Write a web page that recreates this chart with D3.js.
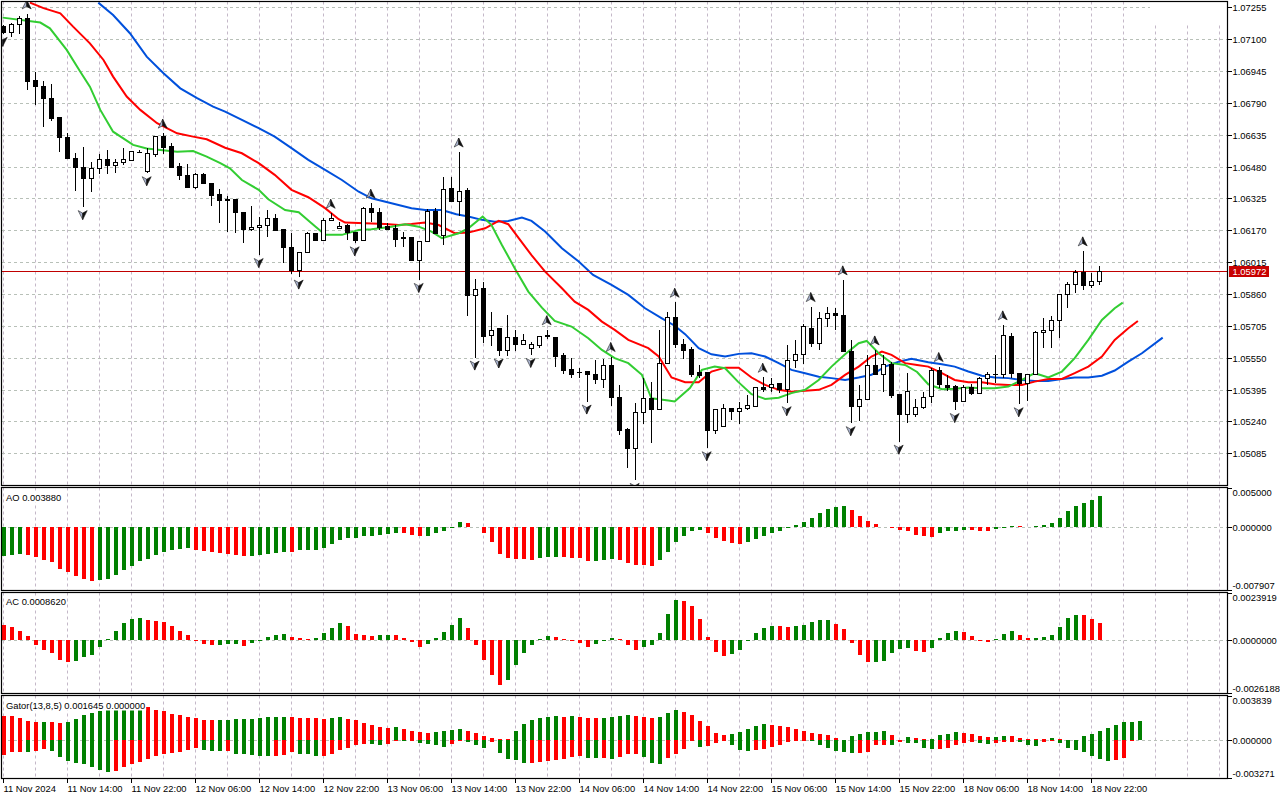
<!DOCTYPE html>
<html>
<head>
<meta charset="utf-8">
<script src="https://cdn.jsdelivr.net/npm/d3@7"></script>
<style>
body { margin: 0; background: #fff; }
svg { display: block; }
text { font-family: "Liberation Sans", Arial, sans-serif; font-size: 9.4px; fill: #000; }
</style>
</head>
<body>
<div id="chart"></div>
<script>
var width = 1280, height = 800;

// EURUSD H1, first bar 11 Nov 06:00
var open = [1.07161,1.07134,1.07173,1.07202,1.06897,1.06872,1.06813,1.06717,1.06624,1.06521,
 1.06478,1.06424,1.06472,1.06516,1.06487,1.06499,1.06511,1.06551,1.06456,1.06538,
 1.06629,1.06576,1.06483,1.06435,1.06378,1.06440,1.06396,1.06342,1.06318,1.06318,
 1.06258,1.06175,1.06185,1.06195,1.06226,1.06172,1.06088,1.05974,1.06062,1.06156,
 1.06123,1.06219,1.06180,1.06196,1.06159,1.06123,1.06278,1.06258,1.06188,1.06178,
 1.06133,1.06133,1.06023,1.06115,1.06261,1.06143,1.06375,1.06309,1.06362,1.05852,
 1.05885,1.05658,1.05692,1.05583,1.05651,1.05616,1.05597,1.05609,1.05654,1.05651,
 1.05559,1.05491,1.05479,1.05481,1.05467,1.05446,1.05510,1.05358,1.05199,1.05110,
 1.05285,1.05353,1.05296,1.05524,1.05746,1.05616,1.05591,1.05476,1.05478,1.05196,
 1.05215,1.05301,1.05288,1.05305,1.05312,1.05407,1.05405,1.05423,1.05397,1.05538,
 1.05564,1.05694,1.05621,1.05743,1.05767,1.05757,1.05580,1.05312,1.05348,1.05510,
 1.05470,1.05519,1.05369,1.05275,1.05275,1.05307,1.05361,1.05486,1.05417,1.05410,
 1.05337,1.05405,1.05378,1.05447,1.05467,1.05467,1.05653,1.05475,1.05426,1.05467,
 1.05674,1.05682,1.05731,1.05856,1.05908,1.05964,1.05901,1.05920];
var high = [1.07169,1.07181,1.07213,1.07223,1.06942,1.06898,1.06882,1.06722,1.06643,1.06548,
 1.06577,1.06501,1.06542,1.06561,1.06517,1.06569,1.06556,1.06561,1.06569,1.06629,
 1.06643,1.06594,1.06499,1.06493,1.06448,1.06448,1.06396,1.06370,1.06336,1.06318,
 1.06258,1.06290,1.06237,1.06269,1.06250,1.06177,1.06159,1.06062,1.06164,1.06156,
 1.06229,1.06253,1.06213,1.06201,1.06159,1.06285,1.06302,1.06278,1.06206,1.06196,
 1.06164,1.06133,1.06115,1.06273,1.06278,1.06431,1.06431,1.06551,1.06378,1.05934,
 1.05920,1.05775,1.05692,1.05759,1.05686,1.05665,1.05626,1.05655,1.05686,1.05651,
 1.05572,1.05551,1.05499,1.05481,1.05538,1.05543,1.05556,1.05418,1.05207,1.05329,
 1.05451,1.05434,1.05686,1.05772,1.05820,1.05642,1.05603,1.05515,1.05478,1.05296,
 1.05324,1.05301,1.05337,1.05369,1.05407,1.05455,1.05454,1.05426,1.05613,1.05637,
 1.05713,1.05799,1.05772,1.05799,1.05791,1.05929,1.05637,1.05418,1.05564,1.05588,
 1.05564,1.05531,1.05369,1.05475,1.05350,1.05385,1.05499,1.05507,1.05467,1.05418,
 1.05418,1.05421,1.05458,1.05483,1.05564,1.05710,1.05669,1.05475,1.05467,1.05680,
 1.05743,1.05755,1.05856,1.05920,1.05977,1.06070,1.05961,1.05998];
var low = [1.07126,1.07110,1.07124,1.06853,1.06780,1.06675,1.06704,1.06553,1.06519,1.06363,
 1.06283,1.06358,1.06444,1.06444,1.06451,1.06490,1.06511,1.06544,1.06448,1.06529,
 1.06542,1.06475,1.06415,1.06378,1.06370,1.06394,1.06290,1.06208,1.06164,1.06159,
 1.06107,1.06169,1.06050,1.06140,1.06169,1.06013,1.05957,1.05945,1.06062,1.06120,
 1.06123,1.06219,1.06175,1.06123,1.06107,1.06123,1.06213,1.06172,1.06172,1.06091,
 1.06091,1.06023,1.05929,1.06115,1.06153,1.06099,1.06309,1.06240,1.05755,1.05551,
 1.05621,1.05609,1.05561,1.05561,1.05583,1.05616,1.05564,1.05597,1.05642,1.05507,
 1.05470,1.05451,1.05451,1.05337,1.05421,1.05405,1.05317,1.05175,1.05013,1.04956,
 1.05227,1.05134,1.05296,1.05524,1.05599,1.05544,1.05457,1.05452,1.05110,1.05180,
 1.05215,1.05248,1.05228,1.05296,1.05312,1.05385,1.05385,1.05378,1.05329,1.05499,
 1.05519,1.05604,1.05588,1.05702,1.05686,1.05580,1.05232,1.05244,1.05348,1.05470,
 1.05382,1.05356,1.05142,1.05232,1.05264,1.05301,1.05329,1.05402,1.05390,1.05296,
 1.05337,1.05369,1.05378,1.05418,1.05426,1.05451,1.05451,1.05324,1.05340,1.05467,
 1.05599,1.05599,1.05648,1.05794,1.05867,1.05880,1.05888,1.05904];
var close = [1.07132,1.07173,1.07202,1.06894,1.06869,1.06811,1.06712,1.06623,1.06519,1.06475,
 1.06422,1.06472,1.06516,1.06485,1.06501,1.06513,1.06556,1.06550,1.06542,1.06629,
 1.06572,1.06475,1.06436,1.06378,1.06440,1.06399,1.06339,1.06315,1.06313,1.06256,
 1.06175,1.06185,1.06195,1.06226,1.06169,1.06088,1.05974,1.06062,1.06156,1.06120,
 1.06217,1.06229,1.06190,1.06159,1.06123,1.06278,1.06258,1.06185,1.06175,1.06127,
 1.06131,1.06023,1.06115,1.06261,1.06156,1.06370,1.06309,1.06359,1.05852,1.05884,
 1.05653,1.05684,1.05583,1.05651,1.05613,1.05635,1.05616,1.05655,1.05656,1.05556,
 1.05487,1.05471,1.05476,1.05470,1.05444,1.05510,1.05358,1.05196,1.05110,1.05285,
 1.05353,1.05296,1.05524,1.05746,1.05613,1.05583,1.05467,1.05464,1.05196,1.05296,
 1.05301,1.05288,1.05305,1.05319,1.05407,1.05398,1.05421,1.05397,1.05538,1.05564,
 1.05700,1.05621,1.05743,1.05767,1.05757,1.05580,1.05312,1.05348,1.05510,1.05470,
 1.05519,1.05366,1.05275,1.05385,1.05308,1.05358,1.05486,1.05418,1.05403,1.05337,
 1.05405,1.05378,1.05447,1.05467,1.05469,1.05658,1.05475,1.05426,1.05467,1.05674,
 1.05682,1.05731,1.05856,1.05908,1.05964,1.05901,1.05920,1.05972];

// Alligator lines, [bar, price] (already shifted forward)
var jaw = [[11.95,1.07278],[13.8,1.07218],[15.9,1.07129],[18,1.07015],[20.1,1.06934],[22.2,1.06861],[24.3,1.06813],[26.3,1.06772],[27.8,1.06748],[29.9,1.06707],[32,1.06667],[34,1.06626],[36.1,1.06570],[38.2,1.06513],[40.3,1.06464],[42.4,1.06415],[44.5,1.06358],[46.1,1.06326],[48.6,1.06302],[51.1,1.06278],[52.8,1.06269],[54.9,1.06269],[56.7,1.06248],[58.2,1.06237],[59.9,1.06221],[61.5,1.06212],[63.2,1.06216],[64.9,1.06232],[66.1,1.06216],[67.8,1.06164],[69.9,1.06083],[72,1.06018],[73.8,1.05953],[76.1,1.05905],[78.2,1.05856],[80.3,1.05791],[82.4,1.05742],[84,1.05706],[85.3,1.05665],[87,1.05597],[88.6,1.05567],[90.3,1.05556],[92,1.05569],[93.6,1.05572],[95.3,1.05556],[97,1.05524],[98.6,1.05491],[100.3,1.05475],[102,1.05458],[103.6,1.05451],[105.3,1.05442],[107,1.05454],[108.6,1.05467],[110.3,1.05507],[112,1.05531],[113.6,1.05545],[115.7,1.05528],[117.4,1.05519],[119,1.05507],[120.7,1.05483],[122.4,1.05463],[124,1.05454],[125.7,1.05451],[127.4,1.05442],[129,1.05437],[130.7,1.05437],[132.4,1.05447],[134,1.05454],[135.7,1.05454],[137.4,1.05463],[139,1.05488],[140.7,1.05531],[142.4,1.05572],[145,1.05648]];
var teeth = [[3.4,1.07278],[5.1,1.07251],[7.2,1.07226],[8.8,1.07161],[10.9,1.07080],[12.6,1.06999],[13.8,1.06918],[15.5,1.06821],[17.2,1.06756],[19.3,1.06691],[21.8,1.06642],[23.8,1.06626],[25.5,1.06613],[27.8,1.06572],[29.9,1.06545],[32,1.06497],[34,1.06440],[36.1,1.06367],[38.2,1.06331],[40.3,1.06278],[42,1.06224],[42.8,1.06208],[45.3,1.06205],[47.8,1.06201],[49.5,1.06196],[51.1,1.06201],[52.8,1.06208],[54.5,1.06196],[56.5,1.06156],[58.2,1.06159],[60.3,1.06180],[62,1.06216],[63.2,1.06200],[64.5,1.06132],[66.1,1.06050],[67.8,1.05969],[69.9,1.05888],[71.5,1.05823],[73.2,1.05783],[74.9,1.05726],[76.5,1.05686],[78.2,1.05637],[80.7,1.05597],[82,1.05556],[83.6,1.05454],[85.3,1.05431],[87,1.05431],[88.6,1.05483],[90.3,1.05502],[92,1.05502],[93.6,1.05454],[95.3,1.05418],[97,1.05394],[98.6,1.05385],[100.3,1.05389],[102,1.05394],[103.6,1.05418],[105.3,1.05467],[107,1.05507],[108.6,1.05556],[109.9,1.05580],[111.1,1.05564],[112.8,1.05524],[114.3,1.05515],[115.7,1.05507],[117.4,1.05475],[119,1.05442],[120.7,1.05431],[122.4,1.05431],[124,1.05421],[125.7,1.05418],[127.4,1.05418],[129,1.05434],[130.7,1.05447],[132.4,1.05447],[134,1.05475],[135.7,1.05507],[137.4,1.05556],[139,1.05637],[140.7,1.05694],[141.9,1.05729]];
var lips = [[0,1.07205],[4.7,1.07181],[5.9,1.07153],[8,1.07048],[9.7,1.06942],[10.9,1.06869],[12.2,1.06756],[13.8,1.06650],[16.3,1.06586],[18,1.06568],[19.7,1.06561],[21.8,1.06553],[23.8,1.06556],[25.5,1.06529],[27.2,1.06497],[28.4,1.06472],[29.9,1.06415],[32,1.06367],[33.2,1.06321],[35.3,1.06269],[37,1.06258],[38.6,1.06205],[40.3,1.06148],[42.4,1.06148],[44.5,1.06172],[46.1,1.06175],[48.6,1.06188],[50.3,1.06200],[52,1.06188],[53.6,1.06164],[54.9,1.06132],[57,1.06156],[58.2,1.06180],[60,1.06237],[61.1,1.06196],[62.4,1.06099],[64,1.05986],[65.7,1.05872],[67.4,1.05794],[69,1.05729],[71.1,1.05702],[73.2,1.05645],[74.9,1.05588],[76.5,1.05548],[78.2,1.05524],[79.9,1.05467],[81.1,1.05353],[83.2,1.05342],[84,1.05337],[85.9,1.05403],[87.4,1.05491],[89,1.05507],[90.3,1.05499],[91.9,1.05434],[93.6,1.05373],[95.3,1.05350],[97,1.05356],[98.6,1.05378],[100.3,1.05394],[102,1.05442],[103.6,1.05507],[105.3,1.05567],[107,1.05621],[108,1.05632],[109.5,1.05572],[111.1,1.05524],[112.8,1.05515],[114.3,1.05481],[115.7,1.05421],[117.4,1.05397],[119,1.05399],[120.7,1.05405],[122.4,1.05402],[124,1.05402],[125.7,1.05410],[127.4,1.05442],[129,1.05475],[130.7,1.05454],[132.4,1.05483],[134,1.05548],[135.7,1.05637],[137.4,1.05734],[139,1.05791],[140,1.05818]];

var fractalUp = [3,20,41,46,57,68,76,84,95,101,105,109,117,125,135];
var fractalDown = [0,10,18,32,37,44,52,59,62,66,73,79,88,98,106,112,119,127];

var ao = [-0.00368,-0.00347,-0.00334,-0.00347,-0.00376,-0.00410,-0.00443,-0.00523,-0.00568,-0.00610,
 -0.00648,-0.00673,-0.00660,-0.00648,-0.00598,-0.00543,-0.00485,-0.00431,-0.00397,-0.00347,
 -0.00309,-0.00284,-0.00272,-0.00268,-0.00284,-0.00297,-0.00309,-0.00322,-0.00334,-0.00347,
 -0.00359,-0.00357,-0.00355,-0.00334,-0.00322,-0.00309,-0.00311,-0.00293,-0.00291,-0.00284,
 -0.00259,-0.00209,-0.00159,-0.00142,-0.00134,-0.00117,-0.00105,-0.00096,-0.00084,-0.00067,
 -0.00071,-0.00092,-0.00117,-0.00105,-0.00079,-0.00054,-0.00004,0.00067,0.00054,0.00004,
 -0.00079,-0.00192,-0.00334,-0.00393,-0.00397,-0.00405,-0.00408,-0.00393,-0.00380,-0.00378,
 -0.00380,-0.00382,-0.00393,-0.00431,-0.00428,-0.00418,-0.00405,-0.00410,-0.00447,-0.00477,
 -0.00481,-0.00485,-0.00418,-0.00309,-0.00180,-0.00105,-0.00042,-0.00029,-0.00071,-0.00142,
 -0.00171,-0.00196,-0.00209,-0.00184,-0.00146,-0.00109,-0.00071,-0.00046,-0.00004,0.00029,
 0.00067,0.00117,0.00180,0.00230,0.00255,0.00268,0.00217,0.00142,0.00079,0.00042,
 0.00004,-0.00004,-0.00029,-0.00042,-0.00092,-0.00117,-0.00121,-0.00079,-0.00054,-0.00042,
 -0.00029,-0.00031,-0.00042,-0.00044,-0.00017,-0.00004,0.00021,0.00019,0.00008,0.00021,
 0.00033,0.00050,0.00113,0.00201,0.00263,0.00309,0.00347,0.00388];
var ac = [0.000771,0.000668,0.000497,0.000206,-0.000223,-0.000480,-0.000634,-0.000994,-0.001096,-0.001045,
 -0.000839,-0.000737,-0.000325,0.000069,0.000497,0.000857,0.001062,0.001113,0.001011,0.001002,
 0.000908,0.000754,0.000497,0.000291,-0.000017,-0.000154,-0.000240,-0.000223,-0.000188,-0.000154,
 -0.000274,-0.000120,-0.000034,0.000188,0.000291,0.000343,0.000188,0.000120,0.000069,0.000137,
 0.000394,0.000651,0.000857,0.000754,0.000343,0.000274,0.000240,0.000291,0.000300,0.000283,
 0.000120,-0.000086,-0.000343,-0.000188,0.000120,0.000428,0.000788,0.001148,0.000634,-0.000240,
 -0.000959,-0.001730,-0.002244,-0.001987,-0.001216,-0.000651,-0.000240,0.000069,0.000223,0.000154,
 0.000051,-0.000017,-0.000137,-0.000343,-0.000188,-0.000017,0.000120,0.000069,-0.000240,-0.000497,
 -0.000343,-0.000240,0.000394,0.001353,0.002021,0.001970,0.001713,0.001096,0.000171,-0.000600,
 -0.000805,-0.000702,-0.000497,0.000017,0.000377,0.000634,0.000737,0.000728,0.000685,0.000737,
 0.000788,0.000942,0.001028,0.001045,0.000839,0.000582,-0.000120,-0.000737,-0.001096,-0.001079,
 -0.001045,-0.000634,-0.000445,-0.000394,-0.000548,-0.000582,-0.000394,0.000120,0.000377,0.000480,
 0.000428,0.000223,0.000017,-0.000069,0.000069,0.000308,0.000463,0.000257,0.000103,0.000111,
 0.000171,0.000257,0.000685,0.001148,0.001302,0.001285,0.001096,0.000862];
var gatorUp = [0.002139,0.002081,0.001907,0.001676,0.001590,0.001618,0.001590,0.001474,0.001590,0.001821,
 0.002168,0.002370,0.002543,0.002717,0.002832,0.002919,0.002977,0.003006,0.002890,0.002659,
 0.002543,0.002312,0.002225,0.002052,0.001936,0.001763,0.001734,0.001763,0.001792,0.001821,
 0.001835,0.001850,0.001907,0.001994,0.002009,0.002052,0.001994,0.001936,0.001907,0.001893,
 0.001879,0.001965,0.002052,0.001879,0.001734,0.001474,0.001301,0.001127,0.001069,0.001156,
 0.000983,0.000809,0.000723,0.000636,0.000723,0.000838,0.000896,0.000983,0.000809,0.000636,
 0.000376,0.000202,0.000116,0.000087,0.000809,0.001416,0.001763,0.001936,0.002023,0.002110,
 0.002023,0.002110,0.002023,0.001936,0.001922,0.001936,0.002023,0.002110,0.002196,0.002110,
 0.002023,0.001936,0.002023,0.002370,0.002630,0.002457,0.002196,0.001676,0.001243,0.000636,
 0.000462,0.000549,0.000723,0.000983,0.001243,0.001416,0.001329,0.001243,0.001156,0.000983,
 0.000809,0.000636,0.000549,0.000462,0.000202,0.000014,0.000376,0.000549,0.000723,0.000737,
 0.000809,0.000462,0.000014,0.000289,0.000202,0.000116,0.000130,0.000462,0.000549,0.000723,
 0.000636,0.000549,0.000376,0.000289,0.000303,0.000376,0.000347,0.000231,0.000145,0.000116,
 0.000087,0.000202,0.000087,0.000029,0.000014,0.000347,0.000578,0.000809,0.001040,0.001301,
 0.001561,0.001618,0.001645];
var gatorDown = [-0.001301,-0.001012,-0.000997,-0.001012,-0.000925,-0.000751,-0.000925,-0.001445,-0.001821,-0.001936,
 -0.002081,-0.002312,-0.002601,-0.002746,-0.002659,-0.002312,-0.002081,-0.001879,-0.001618,-0.001358,
 -0.001214,-0.001098,-0.001012,-0.000809,-0.000665,-0.000867,-0.000925,-0.000954,-0.000896,-0.001156,
 -0.001214,-0.001301,-0.001329,-0.001387,-0.001329,-0.001301,-0.001012,-0.001156,-0.001214,-0.001387,
 -0.001358,-0.001214,-0.000867,-0.000694,-0.000434,-0.000347,-0.000361,-0.000434,-0.000347,-0.000058,
 -0.000087,-0.000058,-0.000231,-0.000318,-0.000405,-0.000578,-0.000318,-0.000058,-0.000145,-0.000405,
 -0.000665,-0.000145,-0.001098,-0.001590,-0.001705,-0.001965,-0.001951,-0.001879,-0.001763,-0.001705,
 -0.001590,-0.001416,-0.001329,-0.001532,-0.001546,-0.001532,-0.001618,-0.001416,-0.001185,-0.001156,
 -0.001445,-0.001965,-0.002052,-0.001532,-0.001185,-0.000751,-0.000029,-0.000578,-0.000491,-0.000231,
 -0.000014,-0.000405,-0.000838,-0.000925,-0.000838,-0.000723,-0.000578,-0.000405,-0.000145,-0.000058,
 -0.000014,-0.000087,-0.000405,-0.000665,-0.000925,-0.001012,-0.001098,-0.001084,-0.001012,-0.000405,
 -0.000390,-0.000419,-0.000145,-0.000231,-0.000246,-0.000665,-0.000751,-0.000723,-0.000665,-0.000405,
 -0.000231,-0.000145,-0.000231,-0.000318,-0.000231,-0.000145,-0.000130,-0.000145,-0.000434,-0.000520,
 -0.000145,-0.000087,-0.000202,-0.000694,-0.000867,-0.001040,-0.001387,-0.001618,-0.001792,-0.001705,
 -0.001532,-0.000058];

var priceTicks = [1.07255,1.07100,1.06945,1.06790,1.06635,1.06480,1.06325,1.06170,1.06015,1.05860,1.05705,1.05550,1.05395,1.05240,1.05085];
var timeLabels = ["11 Nov 2024","11 Nov 14:00","11 Nov 22:00","12 Nov 06:00","12 Nov 14:00","12 Nov 22:00",
 "13 Nov 06:00","13 Nov 14:00","13 Nov 22:00","14 Nov 06:00","14 Nov 14:00","14 Nov 22:00",
 "15 Nov 06:00","15 Nov 14:00","15 Nov 22:00","18 Nov 06:00","18 Nov 14:00","18 Nov 22:00"];

var GREEN = "#008000", RED = "#ff0000";

var svg = d3.select("#chart").append("svg")
  .attr("width", width).attr("height", height);

var x = d3.scaleLinear().domain([0, 153]).range([2.7, 1226.7]);
var yMain = d3.scaleLinear().domain([1.04931, 1.07281]).range([485, 2]);
var yAO = d3.scaleLinear().domain([-0.007907, 0.005]).range([590, 487.5]);
var yAC = d3.scaleLinear().domain([-0.0026188, 0.0023919]).range([692.5, 593]);
var yGt = d3.scaleLinear().domain([-0.003271, 0.003839]).range([778, 696]);

var panels = [
  {id: "main", y0: 1.5, y1: 485.5},
  {id: "ao", y0: 487.5, y1: 590.5},
  {id: "ac", y0: 592.5, y1: 693.5},
  {id: "gt", y0: 695.5, y1: 778.5}
];

var defs = svg.append("defs");
panels.forEach(function(p) {
  defs.append("clipPath").attr("id", "clip-" + p.id)
    .append("rect").attr("x", 2).attr("y", p.y0 + 0.5)
    .attr("width", 1225).attr("height", p.y1 - p.y0 - 1);
});

// grid
var gridBars = d3.range(0, 153, 4);
panels.forEach(function(p) {
  svg.append("g").attr("clip-path", "url(#clip-" + p.id + ")")
    .selectAll("line").data(gridBars).enter().append("line")
    .attr("x1", function(d) { return Math.round(x(d)) + 0.5; })
    .attr("x2", function(d) { return Math.round(x(d)) + 0.5; })
    .attr("y1", p.y0).attr("y2", p.y1)
    .attr("stroke", "#c4b8c8").attr("stroke-dasharray", "3,3");
});
svg.append("g").attr("clip-path", "url(#clip-main)")
  .selectAll("line").data(priceTicks).enter().append("line")
  .attr("x1", 2).attr("x2", 1227)
  .attr("y1", function(d) { return Math.round(yMain(d)) + 0.5; })
  .attr("y2", function(d) { return Math.round(yMain(d)) + 0.5; })
  .attr("stroke", "#b8c0b8").attr("stroke-dasharray", "3,3");
[yAO, yAC, yGt].forEach(function(s) {
  svg.append("line").attr("x1", 2).attr("x2", 1227)
    .attr("y1", Math.round(s(0)) + 0.5).attr("y2", Math.round(s(0)) + 0.5)
    .attr("stroke", "#b8c0b8").attr("stroke-dasharray", "3,3");
});
// blank patch in the top right corner of the main window
svg.append("rect").attr("x", 1150).attr("y", 2).attr("width", 77).attr("height", 23).attr("fill", "#fff");

// alligator lines
var main = svg.append("g").attr("clip-path", "url(#clip-main)");
var line = d3.line().x(function(d) { return x(d[0]); }).y(function(d) { return yMain(d[1]); });
[[jaw, "#0050dc"], [teeth, "#ff0000"], [lips, "#32cd32"]].forEach(function(l) {
  main.append("path").datum(l[0]).attr("d", line)
    .attr("fill", "none").attr("stroke", l[1]).attr("stroke-width", 2);
});

// current price line
main.append("line").attr("x1", 2).attr("x2", 1227)
  .attr("y1", Math.round(yMain(close[137])) + 0.5).attr("y2", Math.round(yMain(close[137])) + 0.5)
  .attr("stroke", "#c00000").attr("stroke-width", 1);

// candles
var bars = d3.range(open.length);
var cg = main.append("g").attr("shape-rendering", "crispEdges");
cg.selectAll("line.wick").data(bars).enter().append("line")
  .attr("x1", function(i) { return Math.round(x(i)) + 0.5; })
  .attr("x2", function(i) { return Math.round(x(i)) + 0.5; })
  .attr("y1", function(i) { return yMain(high[i]); })
  .attr("y2", function(i) { return yMain(low[i]); })
  .attr("stroke", "#000");
cg.selectAll("rect").data(bars).enter().append("rect")
  .attr("x", function(i) { return Math.round(x(i)) - 1.5; })
  .attr("width", 4)
  .attr("y", function(i) { return yMain(Math.max(open[i], close[i])); })
  .attr("height", function(i) { return Math.max(0.1, Math.abs(yMain(open[i]) - yMain(close[i]))); })
  .attr("fill", function(i) { return close[i] > open[i] ? "#fff" : "#000"; })
  .attr("stroke", "#000");

// fractal arrows
function drawArrow(g, cx, cy, up) {
  var s = up ? 1 : -1;
  g.append("path").attr("d", "M" + cx + "," + (cy - 5 * s) + "L" + cx + "," + (cy + 1.5 * s) + "L" + (cx - 4.5) + "," + (cy + 4 * s) + "Z")
    .attr("fill", "#aab4d0").attr("stroke", "#222").attr("stroke-width", 0.6);
  g.append("path").attr("d", "M" + cx + "," + (cy - 5 * s) + "L" + (cx + 4.5) + "," + (cy + 4 * s) + "L" + cx + "," + (cy + 1.5 * s) + "Z")
    .attr("fill", "#111").attr("stroke", "#111").attr("stroke-width", 0.6);
}
var fg = main.append("g");
fractalUp.forEach(function(i) { drawArrow(fg, x(i), yMain(high[i]) - 9, true); });
fractalDown.forEach(function(i) { drawArrow(fg, x(i), yMain(low[i]) + 7.5, false); });

// histograms
function colorsByChange(vals, firstUp, useAbs) {
  return vals.map(function(v, i) {
    if (i === 0) return firstUp ? GREEN : RED;
    var a = useAbs ? Math.abs(v) : v, b = useAbs ? Math.abs(vals[i - 1]) : vals[i - 1];
    return a > b ? GREEN : RED;
  });
}
function histogram(id, vals, scale, cols) {
  svg.append("g").attr("clip-path", "url(#clip-" + id + ")").attr("shape-rendering", "crispEdges")
    .selectAll("rect").data(vals).enter().append("rect")
    .attr("x", function(d, i) { return Math.round(x(i)) - 1.5; })
    .attr("width", 4)
    .attr("y", function(d) { return Math.min(scale(d), scale(0)); })
    .attr("height", function(d) { return Math.max(0.5, Math.abs(scale(d) - scale(0))); })
    .attr("fill", function(d, i) { return cols[i]; });
}
histogram("ao", ao, yAO, colorsByChange(ao, true, false));
histogram("ac", ac, yAC, colorsByChange(ac, false, false));
histogram("gt", gatorUp, yGt, colorsByChange(gatorUp, false, true));
histogram("gt", gatorDown, yGt, colorsByChange(gatorDown, false, true));

// window frames
svg.append("g").selectAll("rect").data(panels).enter().append("rect")
  .attr("x", 1.5).attr("width", 1226)
  .attr("y", function(p) { return p.y0; })
  .attr("height", function(p) { return p.y1 - p.y0; })
  .attr("fill", "none").attr("stroke", "#000").attr("stroke-width", 1.2);

// indicator captions
function caption(txt, yb) {
  var t = svg.append("text").attr("x", 6).attr("y", yb).text(txt);
  var b = t.node().getBBox();
  svg.insert("rect", function() { return t.node(); })
    .attr("x", b.x - 1).attr("y", b.y).attr("width", b.width + 2).attr("height", b.height)
    .attr("fill", "#fff");
}
caption("AO " + ao[ao.length - 1].toFixed(6), 500.5);
caption("AC " + ac[ac.length - 1].toFixed(7), 605);
caption("Gator(13,8,5) " + gatorUp[gatorUp.length - 1].toFixed(6) + " " + (0).toFixed(6), 708.5);

// price axis
var ax = svg.append("g");
priceTicks.forEach(function(p) {
  var yy = Math.round(yMain(p)) + 0.5;
  ax.append("line").attr("x1", 1228).attr("x2", 1232).attr("y1", yy).attr("y2", yy).attr("stroke", "#000");
  ax.append("text").attr("x", 1232.5).attr("y", yy + 3.3).text(p.toFixed(5));
});
function subAxis(scale, dom, digits) {
  var vals = [dom[1], 0, dom[0]];
  vals.forEach(function(v, k) {
    var yy = Math.round(scale(v)) + 0.5;
    ax.append("line").attr("x1", 1228).attr("x2", 1232).attr("y1", yy).attr("y2", yy).attr("stroke", "#000");
    var off = k === 0 ? 7.5 : (k === 1 ? 3.3 : -1.5);
    ax.append("text").attr("x", 1232.5).attr("y", yy + off).text(v.toFixed(digits));
  });
}
subAxis(yAO, yAO.domain(), 6);
subAxis(yAC, yAC.domain(), 7);
subAxis(yGt, yGt.domain(), 6);

// bid label
var by = Math.round(yMain(close[137])) + 0.5;
ax.append("rect").attr("x", 1229).attr("y", by - 5.5).attr("width", 40).attr("height", 11).attr("fill", "#c80000");
ax.append("text").attr("x", 1232.5).attr("y", by + 3.5).style("fill", "#fff").text(close[137].toFixed(5));

// time axis
timeLabels.forEach(function(lbl, k) {
  var xx = Math.round(x(k * 8)) + 0.5;
  ax.append("line").attr("x1", xx).attr("x2", xx).attr("y1", 778.5).attr("y2", 783).attr("stroke", "#000");
  ax.append("text").attr("x", xx).attr("y", 791.7).text(lbl);
});
</script>
</body>
</html>
